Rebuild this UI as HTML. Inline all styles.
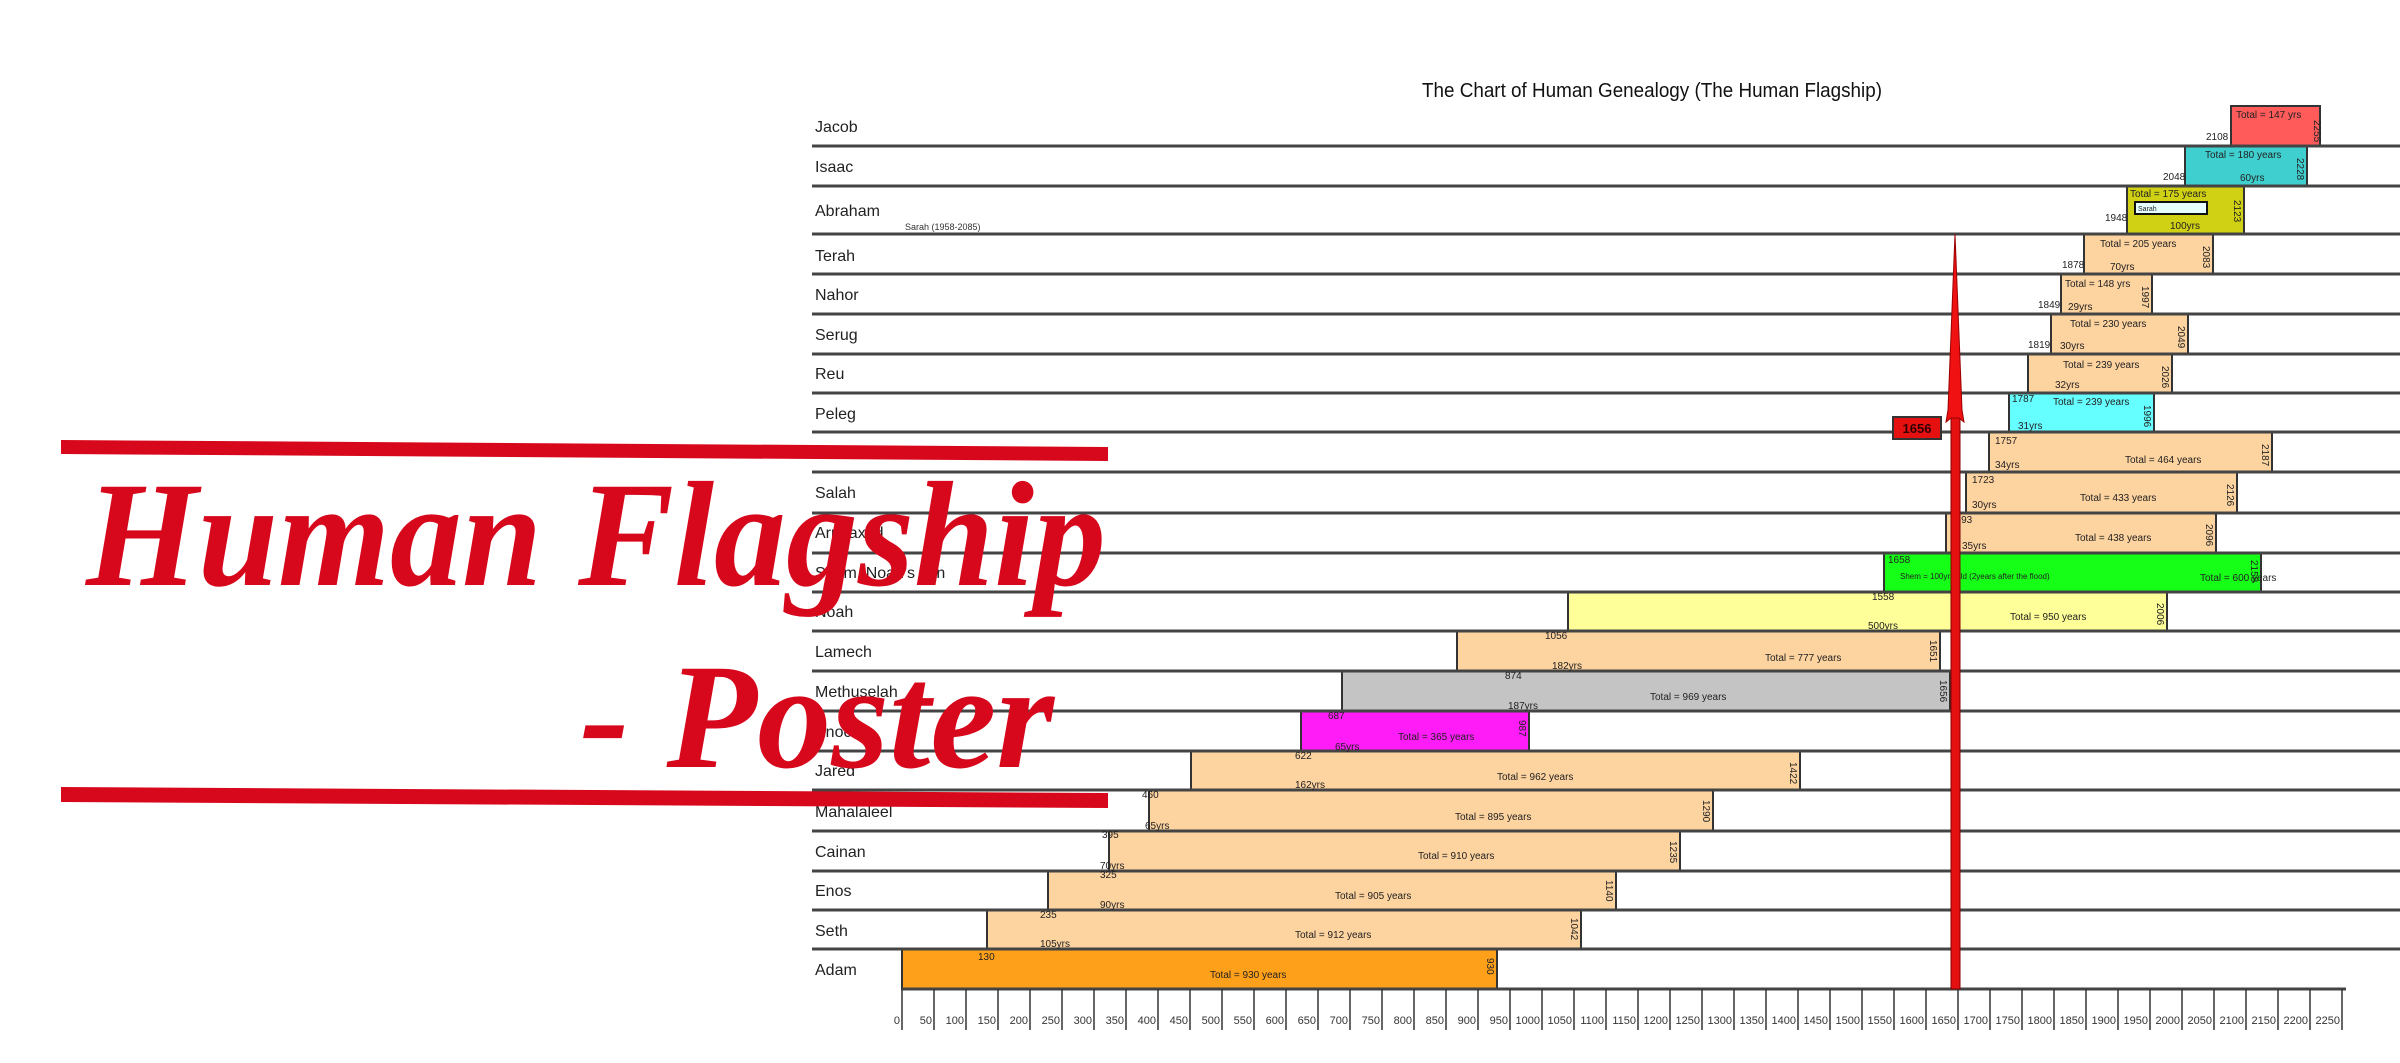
<!DOCTYPE html>
<html><head><meta charset="utf-8"><style>
html,body{margin:0;padding:0;background:#fff;}
svg{display:block;}
</style></head><body>
<svg width="2400" height="1063" viewBox="0 0 2400 1063" xmlns="http://www.w3.org/2000/svg" font-family="Liberation Sans, sans-serif">
<rect width="2400" height="1063" fill="#fff"/>
<text x="1652" y="97" font-size="20" text-anchor="middle" textLength="460" lengthAdjust="spacingAndGlyphs" fill="#111">The Chart of Human Genealogy (The Human Flagship)</text>

<g stroke="#333" stroke-width="2">
<rect x="2231" y="106" width="89" height="40" fill="#FF5B5B"/>
<rect x="2185" y="146" width="122" height="40" fill="#40CFCF"/>
<rect x="2127" y="186" width="117" height="48" fill="#D0D015"/>
<rect x="2084" y="234" width="129" height="40" fill="#FDD3A0"/>
<rect x="2061" y="274" width="91" height="40" fill="#FDD3A0"/>
<rect x="2051" y="314" width="137" height="40" fill="#FDD3A0"/>
<rect x="2028" y="354" width="144" height="39" fill="#FDD3A0"/>
<rect x="2009" y="393" width="145" height="39" fill="#66FFFF"/>
<rect x="1989" y="432" width="283" height="40" fill="#FDD3A0"/>
<rect x="1966" y="472" width="271" height="41" fill="#FDD3A0"/>
<rect x="1946" y="513" width="270" height="40" fill="#FDD3A0"/>
<rect x="1884" y="553" width="377" height="39" fill="#16FF16"/>
<rect x="1568" y="592" width="599" height="39" fill="#FFFF99"/>
<rect x="1457" y="631" width="483" height="40" fill="#FDD3A0"/>
<rect x="1342" y="671" width="608" height="40" fill="#C4C4C4"/>
<rect x="1301" y="711" width="228" height="40" fill="#FF1CF7"/>
<rect x="1191" y="751" width="609" height="39" fill="#FDD3A0"/>
<rect x="1149" y="790" width="564" height="41" fill="#FDD3A0"/>
<rect x="1109" y="831" width="571" height="40" fill="#FDD3A0"/>
<rect x="1048" y="871" width="568" height="39" fill="#FDD3A0"/>
<rect x="987" y="910" width="594" height="39" fill="#FDD3A0"/>
<rect x="902" y="949" width="595" height="40" fill="#FFA01A"/>
</g>
<rect x="2135" y="202" width="72" height="12" fill="#e8ffff" stroke="#111" stroke-width="2"/>

<g stroke="#444" stroke-width="3">
<line x1="812" y1="146" x2="2400" y2="146"/><line x1="812" y1="186" x2="2400" y2="186"/>
<line x1="812" y1="234" x2="2400" y2="234"/><line x1="812" y1="274" x2="2400" y2="274"/>
<line x1="812" y1="314" x2="2400" y2="314"/><line x1="812" y1="354" x2="2400" y2="354"/>
<line x1="812" y1="393" x2="2400" y2="393"/><line x1="812" y1="432" x2="2400" y2="432"/>
<line x1="812" y1="472" x2="2400" y2="472"/><line x1="812" y1="513" x2="2400" y2="513"/>
<line x1="812" y1="553" x2="2400" y2="553"/><line x1="812" y1="592" x2="2400" y2="592"/>
<line x1="812" y1="631" x2="2400" y2="631"/><line x1="812" y1="671" x2="2400" y2="671"/>
<line x1="812" y1="711" x2="2400" y2="711"/><line x1="812" y1="751" x2="2400" y2="751"/>
<line x1="812" y1="790" x2="2400" y2="790"/><line x1="812" y1="831" x2="2400" y2="831"/>
<line x1="812" y1="871" x2="2400" y2="871"/><line x1="812" y1="910" x2="2400" y2="910"/>
<line x1="812" y1="949" x2="2400" y2="949"/>
<line x1="902" y1="989" x2="2346" y2="989"/>
</g>

<g font-size="16" fill="#222">
<text x="815" y="132">Jacob</text><text x="815" y="172">Isaac</text><text x="815" y="216">Abraham</text>
<text x="815" y="261">Terah</text><text x="815" y="300">Nahor</text><text x="815" y="340">Serug</text>
<text x="815" y="379">Reu</text><text x="815" y="419">Peleg</text><text x="815" y="458">Eber</text>
<text x="815" y="498">Salah</text><text x="815" y="538">Arphaxad</text><text x="815" y="578">Shem, Noah's son</text>
<text x="815" y="617">Noah</text><text x="815" y="657">Lamech</text><text x="815" y="697">Methuselah</text>
<text x="815" y="737">Enoch</text><text x="815" y="776">Jared</text><text x="815" y="817">Mahalaleel</text>
<text x="815" y="857">Cainan</text><text x="815" y="896">Enos</text><text x="815" y="936">Seth</text><text x="815" y="975">Adam</text>
</g>
<text x="905" y="230" font-size="9" fill="#333">Sarah (1958-2085)</text>

<g font-size="10" fill="#222">
<text x="2236" y="118">Total = 147 yrs</text><text x="2206" y="140">2108</text>
<text x="2205" y="158">Total = 180 years</text><text x="2163" y="180">2048</text><text x="2240" y="181">60yrs</text>
<text x="2130" y="197">Total = 175 years</text><text x="2138" y="211" font-size="7">Sarah</text><text x="2105" y="221">1948</text><text x="2170" y="229">100yrs</text>
<text x="2100" y="247">Total = 205 years</text><text x="2062" y="268">1878</text><text x="2110" y="270">70yrs</text>
<text x="2065" y="287">Total = 148 yrs</text><text x="2038" y="308">1849</text><text x="2068" y="310">29yrs</text>
<text x="2070" y="327">Total = 230 years</text><text x="2028" y="348">1819</text><text x="2060" y="349">30yrs</text>
<text x="2063" y="368">Total = 239 years</text><text x="2055" y="388">32yrs</text>
<text x="2012" y="402">1787</text><text x="2053" y="405">Total = 239 years</text><text x="2018" y="429">31yrs</text>
<text x="1995" y="444">1757</text><text x="2125" y="463">Total = 464 years</text><text x="1995" y="468">34yrs</text>
<text x="1972" y="483">1723</text><text x="2080" y="501">Total = 433 years</text><text x="1972" y="508">30yrs</text>
<text x="1950" y="523">1693</text><text x="2075" y="541">Total =  438 years</text><text x="1962" y="549">35yrs</text>
<text x="1888" y="563">1658</text><text x="1900" y="579" font-size="8">Shem = 100yrs old (2years after the flood)</text><text x="2200" y="581">Total = 600 years</text>
<text x="1872" y="600">1558</text><text x="2010" y="620">Total = 950 years</text><text x="1868" y="629">500yrs</text>
<text x="1545" y="639">1056</text><text x="1765" y="661">Total = 777 years</text><text x="1552" y="669">182yrs</text>
<text x="1505" y="679">874</text><text x="1650" y="700">Total = 969 years</text><text x="1508" y="709">187yrs</text>
<text x="1328" y="719">687</text><text x="1398" y="740">Total = 365 years</text><text x="1335" y="750">65yrs</text>
<text x="1295" y="759">622</text><text x="1497" y="780">Total = 962 years</text><text x="1295" y="788">162yrs</text>
<text x="1142" y="798">460</text><text x="1455" y="820">Total = 895 years</text><text x="1145" y="829">65yrs</text>
<text x="1102" y="838">395</text><text x="1418" y="859">Total = 910 years</text><text x="1100" y="869">70yrs</text>
<text x="1100" y="878">325</text><text x="1335" y="899">Total = 905 years</text><text x="1100" y="908">90yrs</text>
<text x="1040" y="918">235</text><text x="1295" y="938">Total = 912 years</text><text x="1040" y="947">105yrs</text>
<text x="978" y="960">130</text><text x="1210" y="978">Total = 930 years</text>
</g>
<g font-size="10" fill="#222">
<text transform="translate(2314,120) rotate(90)">2255</text>
<text transform="translate(2297,158) rotate(90)">2228</text>
<text transform="translate(2234,200) rotate(90)">2123</text>
<text transform="translate(2203,246) rotate(90)">2083</text>
<text transform="translate(2142,286) rotate(90)">1997</text>
<text transform="translate(2178,326) rotate(90)">2049</text>
<text transform="translate(2162,366) rotate(90)">2026</text>
<text transform="translate(2144,405) rotate(90)">1996</text>
<text transform="translate(2262,444) rotate(90)">2187</text>
<text transform="translate(2227,484) rotate(90)">2126</text>
<text transform="translate(2206,524) rotate(90)">2096</text>
<text transform="translate(2251,560) rotate(90)">2158</text>
<text transform="translate(2157,603) rotate(90)">2006</text>
<text transform="translate(1930,640) rotate(90)">1651</text>
<text transform="translate(1940,680) rotate(90)">1656</text>
<text transform="translate(1519,720) rotate(90)">987</text>
<text transform="translate(1790,762) rotate(90)">1422</text>
<text transform="translate(1703,800) rotate(90)">1290</text>
<text transform="translate(1670,841) rotate(90)">1235</text>
<text transform="translate(1606,880) rotate(90)">1140</text>
<text transform="translate(1571,918) rotate(90)">1042</text>
<text transform="translate(1487,958) rotate(90)">930</text>
</g>

<rect x="1951" y="415" width="9" height="574" fill="#e51010" stroke="#800" stroke-width="1"/>
<polygon points="1955,234 1962,410 1964,422 1959,418 1951,418 1946,422 1948,410" fill="#f01212" stroke="#900" stroke-width="1"/>
<rect x="1893" y="417" width="48" height="22" fill="#e51010" stroke="#333" stroke-width="2"/>
<text x="1917" y="433" font-size="13" font-weight="bold" text-anchor="middle" fill="#300">1656</text>

<g stroke="#333" stroke-width="1.5">
<line x1="902" y1="989" x2="902" y2="1030"/><line x1="934" y1="989" x2="934" y2="1030"/><line x1="966" y1="989" x2="966" y2="1030"/><line x1="998" y1="989" x2="998" y2="1030"/><line x1="1030" y1="989" x2="1030" y2="1030"/><line x1="1062" y1="989" x2="1062" y2="1030"/><line x1="1094" y1="989" x2="1094" y2="1030"/><line x1="1126" y1="989" x2="1126" y2="1030"/><line x1="1158" y1="989" x2="1158" y2="1030"/><line x1="1190" y1="989" x2="1190" y2="1030"/><line x1="1222" y1="989" x2="1222" y2="1030"/><line x1="1254" y1="989" x2="1254" y2="1030"/><line x1="1286" y1="989" x2="1286" y2="1030"/><line x1="1318" y1="989" x2="1318" y2="1030"/><line x1="1350" y1="989" x2="1350" y2="1030"/><line x1="1382" y1="989" x2="1382" y2="1030"/><line x1="1414" y1="989" x2="1414" y2="1030"/><line x1="1446" y1="989" x2="1446" y2="1030"/><line x1="1478" y1="989" x2="1478" y2="1030"/><line x1="1510" y1="989" x2="1510" y2="1030"/><line x1="1542" y1="989" x2="1542" y2="1030"/><line x1="1574" y1="989" x2="1574" y2="1030"/><line x1="1606" y1="989" x2="1606" y2="1030"/><line x1="1638" y1="989" x2="1638" y2="1030"/><line x1="1670" y1="989" x2="1670" y2="1030"/><line x1="1702" y1="989" x2="1702" y2="1030"/><line x1="1734" y1="989" x2="1734" y2="1030"/><line x1="1766" y1="989" x2="1766" y2="1030"/><line x1="1798" y1="989" x2="1798" y2="1030"/><line x1="1830" y1="989" x2="1830" y2="1030"/><line x1="1862" y1="989" x2="1862" y2="1030"/><line x1="1894" y1="989" x2="1894" y2="1030"/><line x1="1926" y1="989" x2="1926" y2="1030"/><line x1="1958" y1="989" x2="1958" y2="1030"/><line x1="1990" y1="989" x2="1990" y2="1030"/><line x1="2022" y1="989" x2="2022" y2="1030"/><line x1="2054" y1="989" x2="2054" y2="1030"/><line x1="2086" y1="989" x2="2086" y2="1030"/><line x1="2118" y1="989" x2="2118" y2="1030"/><line x1="2150" y1="989" x2="2150" y2="1030"/><line x1="2182" y1="989" x2="2182" y2="1030"/><line x1="2214" y1="989" x2="2214" y2="1030"/><line x1="2246" y1="989" x2="2246" y2="1030"/><line x1="2278" y1="989" x2="2278" y2="1030"/><line x1="2310" y1="989" x2="2310" y2="1030"/><line x1="2342" y1="989" x2="2342" y2="1030"/>
</g>
<g font-size="11" fill="#333" text-anchor="end">
<text x="900" y="1024">0</text><text x="932" y="1024">50</text><text x="964" y="1024">100</text><text x="996" y="1024">150</text><text x="1028" y="1024">200</text><text x="1060" y="1024">250</text><text x="1092" y="1024">300</text><text x="1124" y="1024">350</text><text x="1156" y="1024">400</text><text x="1188" y="1024">450</text><text x="1220" y="1024">500</text><text x="1252" y="1024">550</text><text x="1284" y="1024">600</text><text x="1316" y="1024">650</text><text x="1348" y="1024">700</text><text x="1380" y="1024">750</text><text x="1412" y="1024">800</text><text x="1444" y="1024">850</text><text x="1476" y="1024">900</text><text x="1508" y="1024">950</text><text x="1540" y="1024">1000</text><text x="1572" y="1024">1050</text><text x="1604" y="1024">1100</text><text x="1636" y="1024">1150</text><text x="1668" y="1024">1200</text><text x="1700" y="1024">1250</text><text x="1732" y="1024">1300</text><text x="1764" y="1024">1350</text><text x="1796" y="1024">1400</text><text x="1828" y="1024">1450</text><text x="1860" y="1024">1500</text><text x="1892" y="1024">1550</text><text x="1924" y="1024">1600</text><text x="1956" y="1024">1650</text><text x="1988" y="1024">1700</text><text x="2020" y="1024">1750</text><text x="2052" y="1024">1800</text><text x="2084" y="1024">1850</text><text x="2116" y="1024">1900</text><text x="2148" y="1024">1950</text><text x="2180" y="1024">2000</text><text x="2212" y="1024">2050</text><text x="2244" y="1024">2100</text><text x="2276" y="1024">2150</text><text x="2308" y="1024">2200</text><text x="2340" y="1024">2250</text>
</g>

<polygon points="61,440 1108,447 1108,461 61,454" fill="#d8081c"/>
<polygon points="61,787 1108,793 1108,808 61,802" fill="#d8081c"/>
<text x="86" y="585" font-family="Liberation Serif, serif" font-style="italic" font-weight="bold" font-size="150" fill="#d8081c" textLength="1020" lengthAdjust="spacingAndGlyphs">Human Flagship</text>
<text x="580" y="767" font-family="Liberation Serif, serif" font-style="italic" font-weight="bold" font-size="150" fill="#d8081c" textLength="474" lengthAdjust="spacingAndGlyphs">- Poster</text>
</svg>
</body></html>
